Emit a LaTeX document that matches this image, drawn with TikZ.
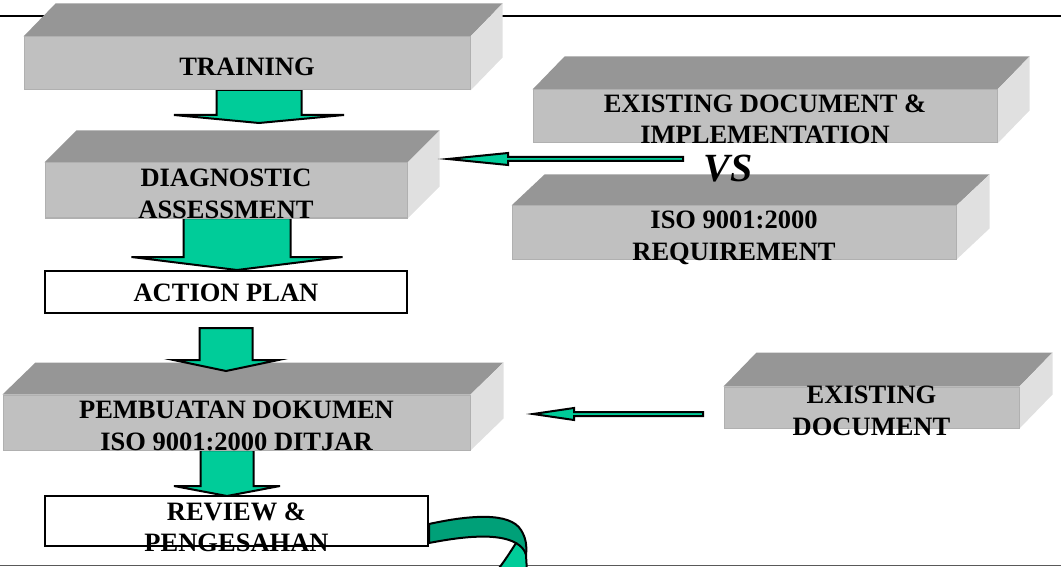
\documentclass[tikz,border=0pt]{standalone}
\usepackage{fontspec}
\setmainfont{Liberation Serif}
\usetikzlibrary{positioning}

\pgfdeclarelayer{background}
\pgfsetlayers{background,main}

\definecolor{topgray}{HTML}{969696}
\definecolor{frontgray}{HTML}{C0C0C0}
\definecolor{sidegray}{HTML}{E0E0E0}
\definecolor{edgegray}{HTML}{B0B0B0}
\definecolor{arrgreen}{HTML}{00CC99}
\definecolor{ribgreen}{HTML}{00A078}

% strut on the first line pushes the text a bit down in its block
\newcommand{\capstrut}[1]{\rule{0pt}{#1pt}}

\begin{document}
\begin{tikzpicture}[x=1pt, y=-1pt,
    slab/.style={rectangle, fill=frontgray, draw=edgegray, line width=1pt,
      inner xsep=0pt, inner ysep=-10pt, align=center,
      font=\fontsize{26.5}{31.5}\selectfont\bfseries},
    wbox/.style={rectangle, fill=white, draw=black, line width=2pt,
      inner xsep=0pt, inner ysep=-10pt, align=center,
      font=\fontsize{26.5}{31.5}\selectfont\bfseries},
    blk/.style={fill=arrgreen, draw=black, line width=2pt, line join=miter},
    sarr/.style={fill=arrgreen, draw=black, line width=2pt, line join=miter,
      miter limit=25},
    rib/.style={draw=black, line width=2pt, line join=round}
  ]
  \useasboundingbox (0,0) rectangle (1061,567);

  \begin{pgfonlayer}{background}
    % page rules
    \draw[line width=2.5pt] (0,16) -- (1061,16);
    \draw[line width=1.5pt, black!65] (0,565.5) -- (1061,565.5);
  \end{pgfonlayer}

  % === Left column: process steps ===
  \node[slab, minimum width=446pt, minimum height=53pt] (train) at (247,63.5)
    {\capstrut{24}TRAINING};
  \node[slab, minimum width=362pt, minimum height=55pt] (diag) at (226,190.5)
    {\capstrut{24}DIAGNOSTIC\\ASSESSMENT};
  \node[wbox, minimum width=362pt, minimum height=42pt] (action) at (226,292)
    {\capstrut{20}ACTION PLAN};
  \node[slab, minimum width=467pt, minimum height=55pt] (pemb) at (236.5,422.5)
    {\capstrut{24}PEMBUATAN DOKUMEN\\ISO 9001:2000 DITJAR};
  \node[wbox, minimum width=383pt, minimum height=50pt] (review) at (236.5,521)
    {\capstrut{30}REVIEW \&\\PENGESAHAN};

  % === Right column: inputs ===
  \node[slab, minimum width=464pt, minimum height=53pt] (exist) at (765,116.5)
    {\capstrut{23}EXISTING DOCUMENT \&\\IMPLEMENTATION};
  \node[slab, minimum width=444pt, minimum height=53pt] (iso) at (734,232.5)
    {\capstrut{28}ISO 9001:2000\\REQUIREMENT};
  \node[slab, minimum width=295pt, minimum height=41pt] (exdoc) at (871.5,407.5)
    {\capstrut{24}EXISTING\\DOCUMENT};

  \node[font=\fontsize{40}{40}\selectfont\bfseries\itshape] (vs) at (728,169) {VS};

  % === Side arrows into the steps ===
  \coordinate (vsfrom) at (683,159);
  \coordinate (exfrom) at (703,414);
  \filldraw[sarr] (vsfrom) -- ++(0,2) -- ++(-175,0) -- ++(0,4) -- ++(-60,-6)
    -- ++(60,-6) -- ++(0,4) -- ++(175,0) -- cycle;
  \filldraw[sarr] (exfrom) -- ++(0,2) -- ++(-129,0) -- ++(0,4) -- ++(-41,-6)
    -- ++(41,-6) -- ++(0,4) -- ++(129,0) -- cycle;

  \begin{pgfonlayer}{background}
    % top and side faces of the 3d blocks
    \foreach \n/\dx/\dy in {train/32/33, diag/32/32, exist/32/33, iso/33/31,
        pemb/33/32, exdoc/33/34} {
      \fill[topgray] (\n.north west) -- ++(\dx,-\dy)
        -- ([shift={(\dx,-\dy)}]\n.north east) -- (\n.north east) -- cycle;
      \fill[sidegray] (\n.north east) -- ++(\dx,-\dy)
        -- ([shift={(\dx,-\dy)}]\n.south east) -- (\n.south east) -- cycle;
    }

    % === Down arrows (tip first), under the step texts ===
    \coordinate (a1) at (259,123);
    \coordinate (a2) at (237,270);
    \coordinate (a3) at (226,371);
    \coordinate (a4) at (227,496);
    \filldraw[blk] (a1) -- ++(-85,-8) -| ++(42.5,-25) -- ++(85,0)
      |- ++(42.5,25) -- cycle;
    \filldraw[blk] (a2) -- ++(-105.5,-13) -| ++(52,-39) -- ++(107,0)
      |- ++(52,39) -- cycle;
    \filldraw[blk] (a3) -- ++(-52.5,-11) -| ++(26,-32) -- ++(53,0)
      |- ++(26,32) -- cycle;
    \filldraw[blk] (a4) -- ++(-53,-10) -| ++(26.5,-36) -- ++(53,0)
      |- ++(26.5,36) -- cycle;

    % ribbon leaving the last step
    \filldraw[rib, fill=ribgreen] ([yshift=-3pt]review.east)
      .. controls (470,515) and (510,512) .. (521,530)
      .. controls (526,538) and (527,546) .. (526,555) -- (516,543)
      .. controls (498,533) and (465,536) .. ([yshift=-22pt]review.east)
      -- cycle;
    \filldraw[rib, fill=arrgreen] (516,543)
      .. controls (521,546) and (525,550) .. (526,555) -- (527,572)
      -- (496,572) .. controls (504,562) and (511,551) .. (516,543);
  \end{pgfonlayer}
\end{tikzpicture}
\end{document}
